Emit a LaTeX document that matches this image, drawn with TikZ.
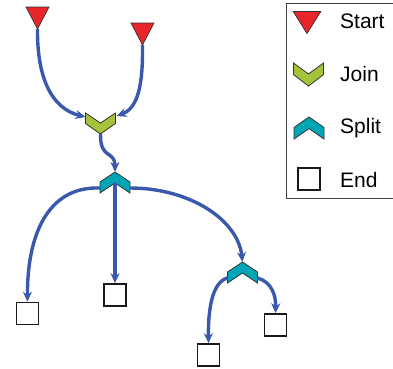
\documentclass[tikz,border=0pt]{standalone}
\usepackage{fontspec}
\setmainfont{Liberation Sans}
\usetikzlibrary{arrows.meta}
\definecolor{startred}{RGB}{233,36,42}
\definecolor{joingreen}{RGB}{163,196,58}
\definecolor{splitteal}{RGB}{0,166,181}
\definecolor{edgeblue}{RGB}{59,89,172}
\definecolor{outl}{RGB}{50,50,50}
\tikzset{
  startpic/.pic={
    \draw[fill=startred,draw=outl,line width=0.7pt] (-11.5,-11)--(11.5,-11)--(0,11)--cycle;
    \coordinate (-b) at (0,11);
  },
  joinpic/.pic={
    \draw[fill=joingreen,draw=outl,line width=0.8pt] (-15,0)--(0,10)--(15,0)--(15,10.5)--(0,21)--(-15,10.5)--cycle;
    \coordinate (-l) at (-15,4);
    \coordinate (-r) at (16,3);
    \coordinate (-b) at (0,21);
  },
  splitpic/.pic={
    \draw[fill=splitteal,draw=outl,line width=0.8pt] (0,0)--(15,10)--(15,21)--(0,11)--(-15,21)--(-15,10)--cycle;
    \coordinate (-t) at (0,0);
    \coordinate (-n) at (0,11);
    \coordinate (-l) at (-15,16);
    \coordinate (-r) at (15,16);
  },
  endbox/.style={draw=black!90,line width=1.6pt,fill=white,minimum size=22pt,inner sep=0pt},
  flow/.style={draw=edgeblue,line width=3.4pt,-{Stealth[length=10pt,width=9pt]}},
  legtext/.style={anchor=base west,font=\fontsize{21}{21}\selectfont,inner sep=0pt},
  legbox/.style={draw=black!75,line width=1pt}
}
\begin{document}
\begin{tikzpicture}[x=1pt,y=-1pt]
\useasboundingbox (0,0) rectangle (393,368);
% shapes
\pic (s1) at (37.5,18) {startpic};
\pic (s2) at (142.5,34) {startpic};
\pic (j) at (100.5,113) {joinpic};
\pic (p1) at (115,172) {splitpic};
\pic (p2) at (242.5,262) {splitpic};
\node[endbox] (e1) at (27.5,313.5) {};
\node[endbox] (e2) at (115,295) {};
\node[endbox] (e3) at (208.5,355) {};
\node[endbox] (e4) at (275.5,325) {};
% connectors
\draw[flow] (s1-b) .. controls (37,75) and (50,108) .. (j-l);
\draw[flow] (s2-b) .. controls (143,85) and (138,108) .. (j-r);
\draw[flow] (j-b) .. controls (100,160) and (115,150) .. (p1-t);
\draw[flow] (p1-l) .. controls (45,186) and (27,240) .. (e1.north);
\draw[flow] (p1-n) -- (e2.north);
\draw[flow] (p1-r) .. controls (190,188) and (238,220) .. (p2-t);
\draw[flow] (p2-l) .. controls (212,282) and (208,310) .. (e3.north);
\draw[flow] (p2-r) .. controls (272,282) and (276,296) .. (e4.north);
% legend
\node[legbox,minimum width=110pt,minimum height=195pt,anchor=north west] (leg) at (286,3) {};
\pic[xscale=1.2] (ls) at (307,22.5) {startpic};
\pic[yscale=1.1] (lj) at (308.5,63) {joinpic};
\pic[yscale=1.05] (lp) at (309,117) {splitpic};
\node[endbox] (le) at (309,179) {};
\node[legtext] (t1) at (340,28) {Start};
\node[legtext] (t2) at (340,81) {Join};
\node[legtext] (t3) at (340,133) {Split};
\node[legtext] (t4) at (340,187) {End};
\end{tikzpicture}
\end{document}
